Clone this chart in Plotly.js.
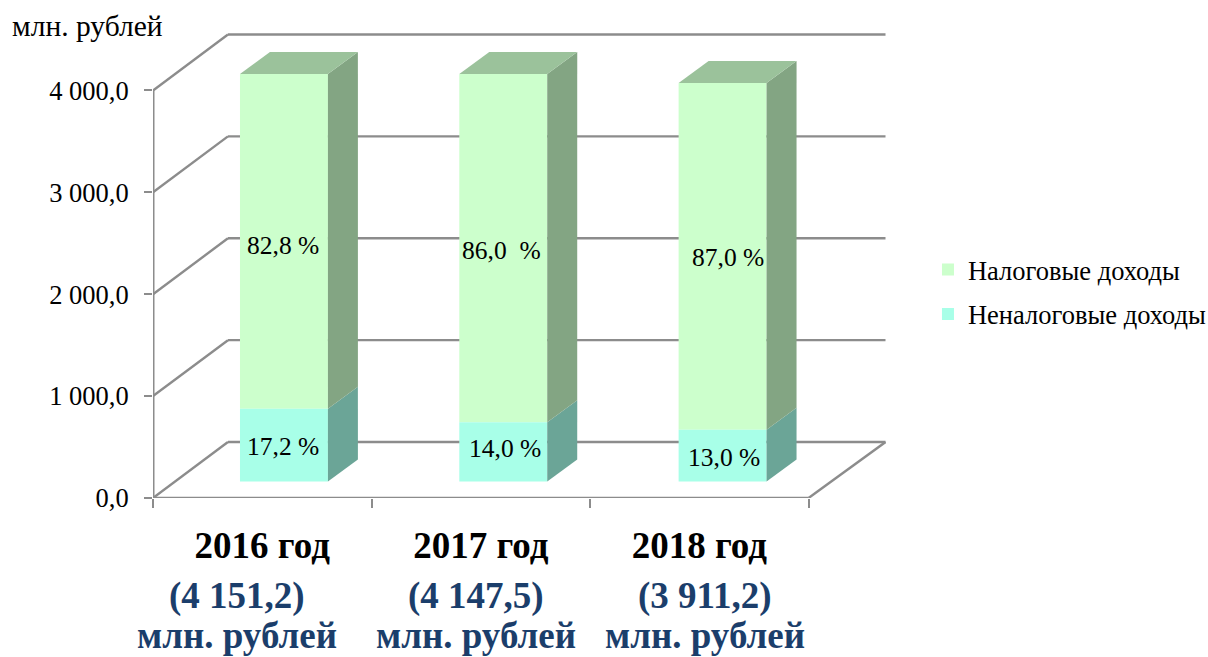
<!DOCTYPE html>
<html><head><meta charset="utf-8">
<script src="https://cdn.plot.ly/plotly-3.0.1.min.js"></script>
<style>html,body{margin:0;padding:0;background:#fff;overflow:hidden}</style>
</head><body><div id="chart" style="width:1208px;height:657px"></div>
<script>
// ---- data ----
const categories = ['2016 год', '2017 год', '2018 год'];
const totals = ['(4 151,2)', '(4 147,5)', '(3 911,2)'];
const unitLine = 'млн. рублей';
const taxValues = [3437, 3567, 3403];
const nonTaxValues = [714, 581, 508];
const taxLabels = ['82,8 %', '86,0  %', '87,0 %'];
const nonTaxLabels = ['17,2 %', '14,0 %', '13,0 %'];
const yTicks = [0, 1000, 2000, 3000, 4000];
const yTickText = ['0,0', '1 000,0', '2 000,0', '3 000,0', '4 000,0'];

// ---- layout constants (pixels) ----
const W = 1208, H = 657;
const PL = 152.5, PR = 886, PT = 33, PB = 498.5;
const catPx = 218.67, valPx = 0.102, axisMax = 4000;
const wallDX = 75, wallDY = 56, backExtra = 2;
const barOffX = 21.7, barDrift = 0.8, barOffY = 16.5, barW = 88, barDX = 30, barDY = 22;
const dx = p => p / catPx, dy = p => p / valPx;
const TAX = '#CCFFCC', TAXTOP = '#9BC29B', TAXSIDE = '#83A583';
const NON = '#A8FFE8', NONSIDE = '#6BA597';
const GRID = '#8C8C8C', SERIF = '"Liberation Serif", serif', NAVY = '#1B3E6B';
const paperY = px => (PB - px) / (PB - PT);

const base = dy(barOffY);
const xc = categories.map((_, i) => i + 0.5 + dx(barOffX + i * barDrift));
const hw = dx(barW / 2);
// the stack is clipped at the axis maximum, as in the source chart
const nonTop = nonTaxValues.slice();
const taxShown = taxValues.map((v, i) => Math.min(v, axisMax - nonTaxValues[i]));

const shapes = [];
const line = (x0, y0, x1, y1, width) => shapes.push({type: 'line', layer: 'below', xref: 'x', yref: 'y', x0, y0, x1, y1,
  line: {color: GRID, width: width || 2.4}});
const xEnd = categories.length;
const xBack = xEnd + dx(wallDX + backExtra);
yTicks.forEach(v => {
  if (v > 0) {
    line(0, v, dx(wallDX), v + dy(wallDY));
    line(dx(wallDX), v + dy(wallDY), xBack, v + dy(wallDY));
  }
});
// floor and left axis
line(0, 0, dx(wallDX), dy(wallDY));
line(dx(wallDX), dy(wallDY), xBack, dy(wallDY));
line(xBack, dy(wallDY), xEnd, 0);
line(0, 0, xEnd, 0);
line(0, 0, 0, axisMax, 3);

const face = (xs, ys, color) => ({type: 'scatter', mode: 'none', x: xs, y: ys, fill: 'toself', fillcolor: color,
  hoverinfo: 'skip', showlegend: false});
const sides = [];
xc.forEach((x, i) => {
  const r = x + hw, ddx = dx(barDX), ddy = dy(barDY);
  const y0 = base, y1 = base + nonTop[i], y2 = y1 + taxShown[i];
  sides.push(face([r, r + ddx, r + ddx, r, r], [y0, y0 + ddy, y1 + ddy, y1, y0], NONSIDE));
  sides.push(face([r, r + ddx, r + ddx, r, r], [y1, y1 + ddy, y2 + ddy, y2, y1], TAXSIDE));
  sides.push(face([x - hw, x - hw + ddx, r + ddx, r, x - hw], [y2, y2 + ddy, y2 + ddy, y2, y2], TAXTOP));
});

const traces = [
  {type: 'bar', name: 'Налоговые доходы', x: xc, y: taxShown, base: nonTop.map(v => v + base), width: hw * 2,
   marker: {color: TAX, line: {width: 0}}, legendgroup: 'a', hoverinfo: 'skip'},
  {type: 'bar', name: 'Неналоговые доходы', x: xc, y: nonTop, base: nonTop.map(() => base), width: hw * 2,
   marker: {color: NON, line: {width: 0}}, legendgroup: 'b', hoverinfo: 'skip'},
  ...sides
];

const taxShift = [[-1, -4], [-2, -2], [5, -1]];
const nonShift = [[-1, -1.5], [2, 3.5], [1, -1.5]];
const totalShift = [-25.5, -5, 5.5];
const annotations = [];
xc.forEach((x, i) => {
  annotations.push({x, y: base + nonTop[i] + taxShown[i] / 2, text: taxLabels[i], showarrow: false,
    xshift: taxShift[i][0], yshift: taxShift[i][1], font: {family: SERIF, size: 25.5, color: '#000'}});
  annotations.push({x, y: base + nonTop[i] / 2, text: nonTaxLabels[i], showarrow: false,
    xshift: nonShift[i][0], yshift: nonShift[i][1], font: {family: SERIF, size: 25.5, color: '#000'}});
  annotations.push({x: i + 0.5, xshift: totalShift[i], y: paperY(597), yref: 'paper', yanchor: 'middle', text: totals[i],
    showarrow: false, font: {family: SERIF, size: 37, color: NAVY, weight: 'bold'}});
  annotations.push({x: i + 0.5, xshift: totalShift[i], y: paperY(636), yref: 'paper', yanchor: 'middle', text: unitLine,
    showarrow: false, font: {family: SERIF, size: 37, color: NAVY, weight: 'bold'}});
});
annotations.push({xref: 'paper', yref: 'paper', xanchor: 'left', yanchor: 'middle',
  x: (12 - PL) / (PR - PL), y: paperY(26), text: 'млн. рублей', showarrow: false,
  font: {family: SERIF, size: 29.5, color: '#000'}, xshift: -3});

const layout = {
  width: W, height: H, margin: {l: PL, r: W - PR, t: PT, b: H - PB, pad: 0, autoexpand: false},
  paper_bgcolor: '#fff', plot_bgcolor: '#fff', barmode: 'overlay', showlegend: true, shapes, annotations,
  font: {family: SERIF, color: '#000'},
  xaxis: {range: [0, (PR - PL) / catPx], tickmode: 'array', tickvals: categories.map((_, i) => i + 0.5), ticktext: categories,
    showgrid: false, zeroline: false, showline: false, ticks: '', ticklabelstandoff: 22,
    tickfont: {family: SERIF, size: 37, color: '#000', weight: 'bold'},
    minor: {tickmode: 'array', tickvals: [0, 1, 2, 3], ticks: 'outside', ticklen: 9, tickwidth: 2.4, tickcolor: GRID, showgrid: false}},
  yaxis: {range: [0, (PB - PT) / valPx], tickmode: 'array', tickvals: yTicks, ticktext: yTickText,
    showgrid: false, zeroline: false, showline: false, ticks: 'outside', ticklen: 8, tickwidth: 2.4, tickcolor: GRID,
    ticklabelstandoff: 10, tickfont: {family: SERIF, size: 26.5, color: '#000'}},
  legend: {x: (928 - PL) / (PR - PL), xanchor: 'left', y: paperY(246), yanchor: 'top', traceorder: 'grouped',
    tracegroupgap: 7, itemwidth: 30, font: {family: SERIF, size: 26.5, color: '#000'}, bgcolor: 'rgba(0,0,0,0)', itemclick: false, itemdoubleclick: false}
};
Plotly.newPlot('chart', traces, layout, {displayModeBar: false, responsive: false});
</script></body></html>
